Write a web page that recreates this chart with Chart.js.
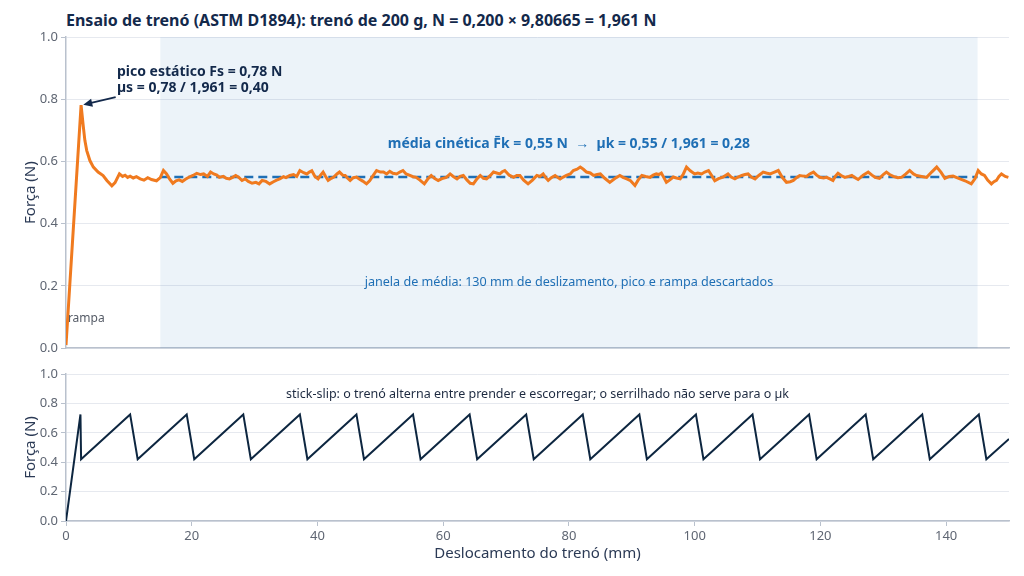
<!DOCTYPE html>
<html><head><meta charset="utf-8">
<script src="https://cdn.jsdelivr.net/npm/chart.js@4.4.1/dist/chart.umd.min.js"></script>
<style>
html,body{margin:0;padding:0;background:#fff;width:1024px;height:576px;overflow:hidden;font-family:"Noto Sans",sans-serif;}
#title{position:absolute;left:66px;top:9px;font:bold 16px "Noto Sans",sans-serif;color:#13294b;white-space:nowrap;}
#w1{position:absolute;left:0;top:0;width:1024px;height:359px;}
#w2{position:absolute;left:0;top:360px;width:1024px;height:203px;}
</style></head><body>
<div id="title">Ensaio de trenó (ASTM D1894): trenó de 200 g, N = 0,200 × 9,80665 = 1,961 N</div>
<div id="w1"><canvas id="c1" width="1024" height="359"></canvas></div>
<div id="w2"><canvas id="c2" width="1024" height="203"></canvas></div>
<script>
const forceX = [0,2.4,2.76,3.0,3.3,3.8,4.35,5.1,5.9,6.5,7.3,7.8,8.5,9.0,9.4,9.8,10.2,10.7,11.2,11.8,12.4,13.0,13.6,14.4,15.0,15.5,16.0,16.5,17.0,17.5,18.0,18.5,19.0,19.6,20.2,20.8,21.4,21.9,22.5,23.0,23.5,24.0,24.4,25.0,25.5,26.0,26.5,27.0,27.5,28.0,28.5,29.0,29.6,30.2,30.7,31.2,31.8,32.4,33.0,33.5,34.0,34.6,35.0,35.6,36.2,36.7,37.2,37.8,38.3,38.7,39.1,39.6,40.1,40.5,40.9,41.3,41.7,42.2,42.6,43.1,43.5,44.0,44.4,44.8,45.2,45.7,46.2,46.7,47.2,47.8,48.3,48.9,49.4,50.0,50.5,51.0,51.5,52.0,52.6,53.1,53.6,54.1,54.7,55.2,55.7,56.3,57.0,57.6,58.1,58.6,59.2,59.8,60.5,61.1,61.6,62.2,62.7,63.2,63.8,64.3,64.8,65.4,65.9,66.4,66.9,67.5,68.0,68.5,69.0,69.4,69.8,70.5,71.2,71.7,72.2,72.8,73.5,74.2,74.9,75.4,75.9,76.3,76.7,77.2,77.8,78.2,78.6,79.1,79.6,80.2,80.7,81.3,81.8,82.3,82.8,83.4,83.9,84.5,85.0,85.7,86.5,87.3,88.1,88.6,89.2,89.8,90.5,91.0,91.6,92.2,92.9,93.4,93.9,94.3,94.7,95.1,95.5,96.0,96.6,97.1,97.7,98.2,98.7,99.3,100.0,100.5,101.1,101.6,102.2,102.7,103.2,103.8,104.5,104.9,105.3,105.8,106.4,106.9,107.5,108.0,108.5,109.0,109.6,110.2,110.9,111.4,112.0,112.6,113.3,113.9,114.6,115.2,115.7,116.2,116.7,117.3,117.8,118.3,118.9,119.4,119.9,120.5,121.0,121.5,122.0,122.4,122.8,123.3,123.9,124.5,125.0,125.5,126.0,126.8,127.6,128.2,128.7,129.4,130.0,130.5,131.0,131.6,132.3,132.9,133.6,134.2,134.8,135.3,136.1,136.9,137.7,138.5,139.2,139.8,140.5,141.1,141.7,142.2,143.0,144.0,144.6,145.1,145.6,146.1,146.6,147.2,147.6,148.0,148.4,148.8,149.4,149.9];
const forceY = [0.01,0.781,0.711,0.668,0.635,0.603,0.582,0.566,0.555,0.539,0.522,0.532,0.560,0.552,0.556,0.549,0.553,0.547,0.551,0.544,0.540,0.548,0.542,0.538,0.548,0.571,0.560,0.543,0.530,0.538,0.541,0.536,0.543,0.550,0.555,0.562,0.558,0.560,0.552,0.566,0.560,0.556,0.549,0.552,0.546,0.544,0.549,0.555,0.549,0.539,0.544,0.536,0.530,0.533,0.528,0.539,0.536,0.528,0.535,0.540,0.544,0.551,0.548,0.555,0.558,0.552,0.571,0.564,0.560,0.566,0.570,0.552,0.544,0.556,0.566,0.552,0.539,0.546,0.550,0.560,0.566,0.556,0.555,0.546,0.539,0.548,0.550,0.543,0.537,0.528,0.538,0.556,0.571,0.566,0.566,0.560,0.568,0.562,0.560,0.566,0.571,0.560,0.555,0.551,0.549,0.540,0.528,0.545,0.555,0.546,0.539,0.545,0.549,0.560,0.552,0.544,0.552,0.555,0.540,0.530,0.528,0.545,0.555,0.546,0.544,0.555,0.566,0.563,0.560,0.567,0.571,0.556,0.549,0.555,0.555,0.540,0.528,0.540,0.555,0.552,0.560,0.548,0.539,0.548,0.555,0.549,0.544,0.550,0.555,0.560,0.571,0.575,0.582,0.575,0.566,0.563,0.555,0.558,0.560,0.546,0.533,0.545,0.555,0.549,0.544,0.538,0.523,0.540,0.555,0.552,0.549,0.556,0.560,0.558,0.563,0.548,0.533,0.540,0.550,0.547,0.544,0.560,0.582,0.570,0.560,0.563,0.560,0.566,0.571,0.555,0.538,0.545,0.550,0.555,0.560,0.550,0.544,0.550,0.555,0.558,0.560,0.550,0.544,0.555,0.566,0.563,0.560,0.565,0.571,0.550,0.533,0.535,0.539,0.548,0.555,0.553,0.552,0.560,0.566,0.556,0.549,0.547,0.549,0.544,0.539,0.553,0.562,0.555,0.549,0.552,0.555,0.548,0.542,0.556,0.566,0.556,0.549,0.546,0.558,0.566,0.558,0.552,0.548,0.549,0.560,0.571,0.560,0.555,0.552,0.549,0.566,0.582,0.565,0.546,0.552,0.553,0.548,0.544,0.538,0.528,0.545,0.571,0.560,0.555,0.540,0.528,0.535,0.539,0.552,0.560,0.552,0.549];
const meanX = [15, 145];
const meanY = [0.55, 0.55];
const windowStart = 15, windowEnd = 145;
const peakX = 2.4, peakY = 0.78;
const stickX = [0,2.3,2.4,10.2,11.4,19.2,20.4,28.2,29.4,37.2,38.4,46.2,47.4,55.2,56.4,64.2,65.4,73.2,74.4,82.2,83.4,91.2,92.4,100.2,101.4,109.2,110.4,118.2,119.4,127.2,128.4,136.2,137.4,145.2,146.4,150];
const stickY = [0.0,0.725,0.42,0.725,0.42,0.725,0.42,0.725,0.42,0.725,0.42,0.725,0.42,0.725,0.42,0.725,0.42,0.725,0.42,0.725,0.42,0.725,0.42,0.725,0.42,0.725,0.42,0.725,0.42,0.725,0.42,0.725,0.42,0.725,0.42,0.558];
const xTicks = [0,20,40,60,80,100,120,140];

const FONT = '"Noto Sans", sans-serif';
const toPts = (xs, ys) => xs.map((x, i) => ({x, y: ys[i]}));
const tickColor = '#5f6673';
const gridColor = '#e6e9ef';
const borderColor = '#b9c1cd';

function yScale() {
  return {
    min: 0, max: 1,
    ticks: {stepSize: 0.2, color: tickColor, font: {family: FONT, size: 13}, padding: 3,
      callback: v => v.toFixed(1)},
    grid: {color: gridColor, tickLength: 5, tickColor: borderColor},
    border: {color: borderColor, width: 1.5},
    title: {display: true, text: 'Força (N)', color: '#2b3a55', font: {family: FONT, size: 15}, padding: {top: 22, bottom: 0}},
    afterFit: s => { s.width = 66; }
  };
}

const overlayTop = {
  id: 'overlayTop',
  beforeDatasetsDraw(chart) {
    const {ctx, chartArea: a, scales: {x}} = chart;
    ctx.save();
    ctx.fillStyle = 'rgba(31,111,181,0.085)';
    const x0 = x.getPixelForValue(windowStart), x1 = x.getPixelForValue(windowEnd);
    ctx.fillRect(x0, a.top, x1 - x0, a.bottom - a.top);
    ctx.restore();
  },
  afterDatasetsDraw(chart) {
    const {ctx, scales: {x, y}} = chart;
    ctx.save();
    ctx.textBaseline = 'middle';
    ctx.fillStyle = '#13294b';
    ctx.font = 'bold 14px ' + FONT;
    ctx.textAlign = 'left';
    ctx.fillText('pico estático Fs = 0,78 N', x.getPixelForValue(8.1), y.getPixelForValue(0.887));
    ctx.fillText('µs = 0,78 / 1,961 = 0,40', x.getPixelForValue(8.1), y.getPixelForValue(0.835));
    const sx = x.getPixelForValue(7.9), sy = y.getPixelForValue(0.807);
    const ex = x.getPixelForValue(peakX + 0.35), ey = y.getPixelForValue(peakY + 0.002);
    ctx.strokeStyle = '#13294b'; ctx.lineWidth = 1.8;
    const ang = Math.atan2(ey - sy, ex - sx);
    ctx.beginPath(); ctx.moveTo(sx, sy);
    ctx.lineTo(ex - 7 * Math.cos(ang), ey - 7 * Math.sin(ang)); ctx.stroke();
    ctx.beginPath();
    ctx.moveTo(ex, ey);
    ctx.lineTo(ex - 9 * Math.cos(ang) + 4 * Math.sin(ang), ey - 9 * Math.sin(ang) - 4 * Math.cos(ang));
    ctx.lineTo(ex - 9 * Math.cos(ang) - 4 * Math.sin(ang), ey - 9 * Math.sin(ang) + 4 * Math.cos(ang));
    ctx.closePath(); ctx.fillStyle = '#13294b'; ctx.fill();
    ctx.textAlign = 'center';
    ctx.fillStyle = '#1f6fb5';
    ctx.font = 'bold 14px ' + FONT;
    ctx.fillText('média cinética F\u0304k = 0,55 N  \u2192  µk = 0,55 / 1,961 = 0,28', x.getPixelForValue(80), y.getPixelForValue(0.655));
    ctx.font = '12.6px ' + FONT;
    ctx.fillText('janela de média: 130 mm de deslizamento, pico e rampa descartados', x.getPixelForValue(80), y.getPixelForValue(0.213));
    ctx.textAlign = 'left';
    ctx.fillStyle = '#555b66';
    ctx.font = '12px ' + FONT;
    ctx.fillText('rampa', x.getPixelForValue(0.3), y.getPixelForValue(0.094));
    ctx.restore();
  }
};

const overlayBottom = {
  id: 'overlayBottom',
  afterDatasetsDraw(chart) {
    const {ctx, scales: {x, y}} = chart;
    ctx.save();
    ctx.textBaseline = 'middle';
    ctx.textAlign = 'center';
    ctx.fillStyle = '#1d2a40';
    ctx.font = '12.5px ' + FONT;
    ctx.fillText('stick-slip: o trenó alterna entre prender e escorregar; o serrilhado não serve para o µk', x.getPixelForValue(75), y.getPixelForValue(0.864));
    ctx.restore();
  }
};

new Chart(document.getElementById('c1'), {
  type: 'line',
  data: {datasets: [
    {data: toPts(meanX, meanY), borderColor: '#1f6fb5', borderWidth: 2.5, borderDash: [9, 5], pointRadius: 0, order: 2},
    {data: toPts(forceX, forceY), borderColor: '#f07a1f', borderWidth: 3, pointRadius: 0, tension: 0, order: 1}
  ]},
  options: {
    responsive: false, animation: false, devicePixelRatio: 1,
    layout: {padding: {top: 37, right: 15, bottom: 3, left: 0}},
    plugins: {legend: {display: false}, tooltip: {enabled: false}},
    scales: {
      x: {type: 'linear', min: 0, max: 150,
        ticks: {display: false}, grid: {display: false},
        border: {color: borderColor, width: 1.5},
        afterFit: s => { s.height = 0; }},
      y: yScale()
    }
  },
  plugins: [overlayTop]
});

new Chart(document.getElementById('c2'), {
  type: 'line',
  data: {datasets: [
    {data: toPts(stickX, stickY), borderColor: '#0d2640', borderWidth: 2, pointRadius: 0, tension: 0}
  ]},
  options: {
    responsive: false, animation: false, devicePixelRatio: 1,
    layout: {padding: {top: 14, right: 15, bottom: 0, left: 0}},
    plugins: {legend: {display: false}, tooltip: {enabled: false}},
    scales: {
      x: {type: 'linear', min: 0, max: 150,
        afterBuildTicks: s => { s.ticks = xTicks.map(v => ({value: v})); },
        ticks: {color: tickColor, font: {family: FONT, size: 13}, padding: 2, maxRotation: 0},
        grid: {color: 'transparent', tickColor: borderColor, tickLength: 5},
        border: {color: borderColor, width: 1.5},
        title: {display: true, text: 'Deslocamento do trenó (mm)', color: '#2b3a55', font: {family: FONT, size: 15}, padding: {top: 2, bottom: 0}},
        afterFit: s => { s.height = 42; }},
      y: yScale()
    }
  },
  plugins: [overlayBottom]
});
</script>
</body></html>
